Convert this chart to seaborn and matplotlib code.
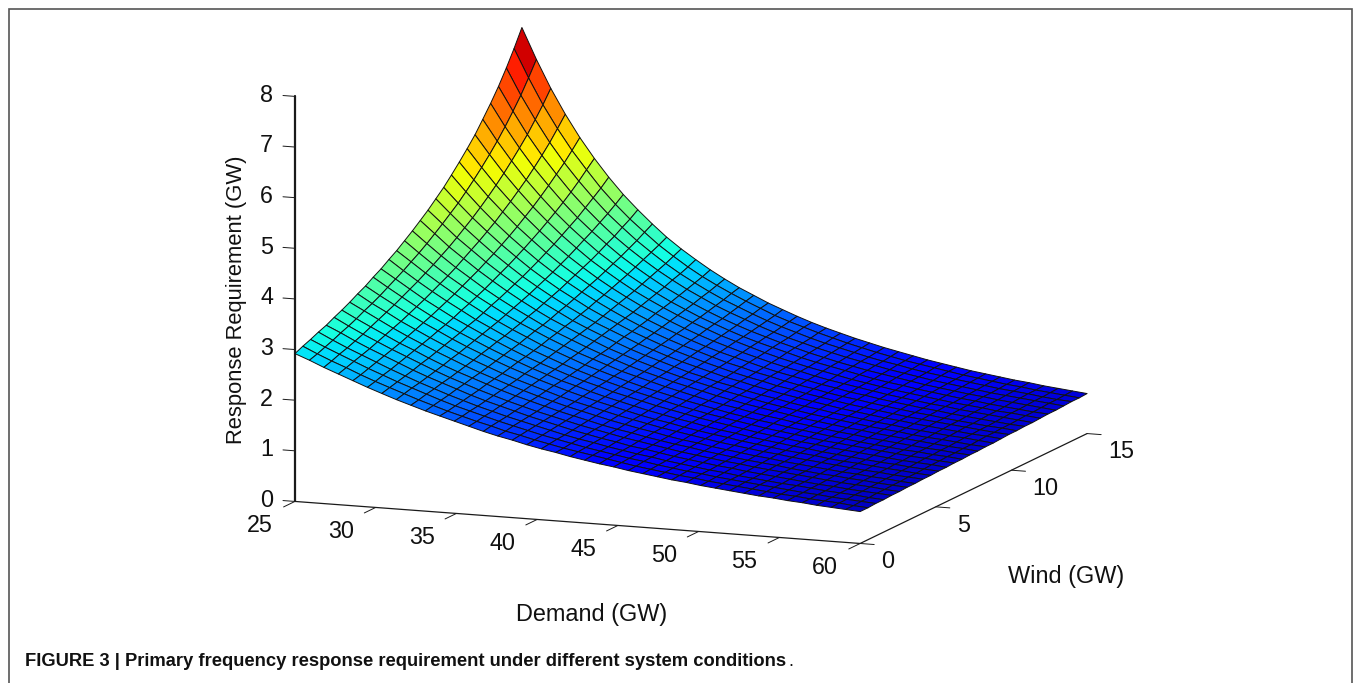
import matplotlib
matplotlib.use('Agg')
import numpy as np
import matplotlib.pyplot as plt
import seaborn as sns
from matplotlib.colors import PowerNorm
from matplotlib.patches import Rectangle
from mpl_toolkits.mplot3d import proj3d

demand = [25, 25.9, 26.79, 27.69, 28.59, 29.49, 30.38, 31.28, 32.18, 33.08,
          33.97, 34.87, 35.77, 36.67, 37.56, 38.46, 39.36, 40.26, 41.15, 42.05,
          42.95, 43.85, 44.74, 45.64, 46.54, 47.44, 48.33, 49.23, 50.13, 51.03,
          51.92, 52.82, 53.72, 54.62, 55.51, 56.41, 57.31, 58.21, 59.1, 60]
wind = [0, 0.52, 1.03, 1.55, 2.07, 2.59, 3.1, 3.62, 4.14, 4.66,
        5.17, 5.69, 6.21, 6.72, 7.24, 7.76, 8.28, 8.79, 9.31, 9.83,
        10.34, 10.86, 11.38, 11.9, 12.41, 12.93, 13.45, 13.97, 14.48, 15]
# one row per demand value, one column per wind value
requirement = [
    [2.92, 2.99, 3.05, 3.12, 3.18, 3.26, 3.33, 3.41, 3.50, 3.58, 3.68, 3.77, 3.88, 3.98, 4.10, 4.22, 4.35, 4.48, 4.63, 4.78, 4.95, 5.13, 5.32, 5.52, 5.75, 5.99, 6.25, 6.54, 6.85, 7.19],
    [2.81, 2.86, 2.92, 2.98, 3.05, 3.11, 3.18, 3.26, 3.33, 3.41, 3.50, 3.59, 3.68, 3.78, 3.88, 3.99, 4.11, 4.23, 4.36, 4.49, 4.64, 4.80, 4.97, 5.15, 5.34, 5.55, 5.78, 6.02, 6.29, 6.58],
    [2.69, 2.74, 2.80, 2.85, 2.91, 2.97, 3.04, 3.11, 3.18, 3.25, 3.33, 3.41, 3.49, 3.58, 3.67, 3.77, 3.87, 3.98, 4.10, 4.22, 4.35, 4.49, 4.64, 4.80, 4.97, 5.15, 5.34, 5.56, 5.78, 6.03],
    [2.58, 2.63, 2.68, 2.73, 2.78, 2.84, 2.90, 2.96, 3.02, 3.09, 3.16, 3.23, 3.31, 3.39, 3.47, 3.56, 3.66, 3.76, 3.86, 3.97, 4.08, 4.21, 4.34, 4.48, 4.62, 4.78, 4.95, 5.13, 5.33, 5.54],
    [2.47, 2.51, 2.56, 2.61, 2.66, 2.71, 2.76, 2.82, 2.88, 2.94, 3.00, 3.07, 3.14, 3.21, 3.29, 3.37, 3.45, 3.54, 3.63, 3.73, 3.83, 3.94, 4.06, 4.18, 4.31, 4.45, 4.60, 4.75, 4.92, 5.10],
    [2.36, 2.40, 2.45, 2.49, 2.54, 2.59, 2.64, 2.69, 2.74, 2.80, 2.85, 2.91, 2.98, 3.04, 3.11, 3.18, 3.26, 3.34, 3.42, 3.51, 3.60, 3.70, 3.80, 3.91, 4.02, 4.14, 4.27, 4.41, 4.56, 4.71],
    [2.26, 2.30, 2.34, 2.38, 2.42, 2.47, 2.51, 2.56, 2.61, 2.66, 2.71, 2.77, 2.82, 2.88, 2.95, 3.01, 3.08, 3.15, 3.22, 3.30, 3.38, 3.47, 3.56, 3.66, 3.76, 3.86, 3.98, 4.10, 4.22, 4.36],
    [2.16, 2.20, 2.24, 2.27, 2.31, 2.35, 2.39, 2.44, 2.48, 2.53, 2.58, 2.63, 2.68, 2.73, 2.79, 2.85, 2.91, 2.97, 3.04, 3.11, 3.18, 3.26, 3.34, 3.43, 3.52, 3.61, 3.71, 3.81, 3.92, 4.04],
    [2.07, 2.10, 2.14, 2.17, 2.21, 2.24, 2.28, 2.32, 2.36, 2.41, 2.45, 2.50, 2.54, 2.59, 2.64, 2.70, 2.75, 2.81, 2.87, 2.93, 3.00, 3.07, 3.14, 3.21, 3.29, 3.38, 3.46, 3.56, 3.65, 3.76],
    [1.98, 2.01, 2.04, 2.07, 2.11, 2.14, 2.18, 2.21, 2.25, 2.29, 2.33, 2.37, 2.41, 2.46, 2.51, 2.55, 2.60, 2.66, 2.71, 2.77, 2.83, 2.89, 2.95, 3.02, 3.09, 3.16, 3.24, 3.32, 3.41, 3.50],
    [1.90, 1.92, 1.95, 1.98, 2.01, 2.04, 2.08, 2.11, 2.14, 2.18, 2.22, 2.25, 2.29, 2.33, 2.38, 2.42, 2.47, 2.51, 2.56, 2.61, 2.67, 2.72, 2.78, 2.84, 2.90, 2.97, 3.04, 3.11, 3.18, 3.26],
    [1.82, 1.84, 1.87, 1.89, 1.92, 1.95, 1.98, 2.01, 2.04, 2.08, 2.11, 2.14, 2.18, 2.22, 2.26, 2.30, 2.34, 2.38, 2.42, 2.47, 2.52, 2.57, 2.62, 2.67, 2.73, 2.79, 2.85, 2.91, 2.98, 3.05],
    [1.74, 1.76, 1.79, 1.81, 1.84, 1.86, 1.89, 1.92, 1.95, 1.98, 2.01, 2.04, 2.07, 2.11, 2.14, 2.18, 2.22, 2.26, 2.30, 2.34, 2.38, 2.42, 2.47, 2.52, 2.57, 2.62, 2.68, 2.73, 2.79, 2.86],
    [1.66, 1.69, 1.71, 1.73, 1.76, 1.78, 1.81, 1.83, 1.86, 1.89, 1.91, 1.94, 1.97, 2.00, 2.04, 2.07, 2.10, 2.14, 2.18, 2.21, 2.25, 2.29, 2.34, 2.38, 2.42, 2.47, 2.52, 2.57, 2.62, 2.68],
    [1.59, 1.61, 1.64, 1.66, 1.68, 1.70, 1.73, 1.75, 1.77, 1.80, 1.83, 1.85, 1.88, 1.91, 1.94, 1.97, 2.00, 2.03, 2.06, 2.10, 2.13, 2.17, 2.21, 2.25, 2.29, 2.33, 2.38, 2.42, 2.47, 2.52],
    [1.53, 1.55, 1.57, 1.59, 1.61, 1.63, 1.65, 1.67, 1.69, 1.72, 1.74, 1.77, 1.79, 1.82, 1.84, 1.87, 1.90, 1.93, 1.96, 1.99, 2.02, 2.06, 2.09, 2.13, 2.16, 2.20, 2.24, 2.28, 2.33, 2.37],
    [1.46, 1.48, 1.50, 1.52, 1.54, 1.56, 1.58, 1.60, 1.62, 1.64, 1.66, 1.68, 1.71, 1.73, 1.76, 1.78, 1.81, 1.84, 1.86, 1.89, 1.92, 1.95, 1.98, 2.02, 2.05, 2.08, 2.12, 2.16, 2.20, 2.24],
    [1.40, 1.42, 1.44, 1.45, 1.47, 1.49, 1.51, 1.53, 1.55, 1.57, 1.59, 1.61, 1.63, 1.65, 1.68, 1.70, 1.72, 1.75, 1.77, 1.80, 1.83, 1.85, 1.88, 1.91, 1.94, 1.97, 2.01, 2.04, 2.08, 2.11],
    [1.35, 1.36, 1.38, 1.39, 1.41, 1.43, 1.44, 1.46, 1.48, 1.50, 1.52, 1.54, 1.56, 1.58, 1.60, 1.62, 1.64, 1.66, 1.69, 1.71, 1.74, 1.76, 1.79, 1.82, 1.84, 1.87, 1.90, 1.93, 1.96, 2.00],
    [1.29, 1.31, 1.32, 1.34, 1.35, 1.37, 1.38, 1.40, 1.42, 1.43, 1.45, 1.47, 1.49, 1.51, 1.53, 1.55, 1.57, 1.59, 1.61, 1.63, 1.65, 1.68, 1.70, 1.73, 1.75, 1.78, 1.80, 1.83, 1.86, 1.89],
    [1.24, 1.26, 1.27, 1.28, 1.30, 1.31, 1.33, 1.34, 1.36, 1.37, 1.39, 1.41, 1.42, 1.44, 1.46, 1.48, 1.50, 1.51, 1.53, 1.55, 1.58, 1.60, 1.62, 1.64, 1.67, 1.69, 1.71, 1.74, 1.77, 1.79],
    [1.19, 1.21, 1.22, 1.23, 1.24, 1.26, 1.27, 1.29, 1.30, 1.32, 1.33, 1.35, 1.36, 1.38, 1.39, 1.41, 1.43, 1.45, 1.47, 1.48, 1.50, 1.52, 1.54, 1.56, 1.59, 1.61, 1.63, 1.65, 1.68, 1.70],
    [1.15, 1.16, 1.17, 1.18, 1.20, 1.21, 1.22, 1.23, 1.25, 1.26, 1.28, 1.29, 1.30, 1.32, 1.33, 1.35, 1.37, 1.38, 1.40, 1.42, 1.44, 1.45, 1.47, 1.49, 1.51, 1.53, 1.55, 1.57, 1.60, 1.62],
    [1.10, 1.11, 1.13, 1.14, 1.15, 1.16, 1.17, 1.18, 1.20, 1.21, 1.22, 1.24, 1.25, 1.26, 1.28, 1.29, 1.31, 1.32, 1.34, 1.35, 1.37, 1.39, 1.41, 1.42, 1.44, 1.46, 1.48, 1.50, 1.52, 1.54],
    [1.06, 1.07, 1.08, 1.09, 1.10, 1.11, 1.13, 1.14, 1.15, 1.16, 1.17, 1.19, 1.20, 1.21, 1.22, 1.24, 1.25, 1.27, 1.28, 1.30, 1.31, 1.33, 1.34, 1.36, 1.38, 1.39, 1.41, 1.43, 1.45, 1.47],
    [1.02, 1.03, 1.04, 1.05, 1.06, 1.07, 1.08, 1.09, 1.10, 1.12, 1.13, 1.14, 1.15, 1.16, 1.17, 1.19, 1.20, 1.21, 1.23, 1.24, 1.26, 1.27, 1.28, 1.30, 1.32, 1.33, 1.35, 1.36, 1.38, 1.40],
    [0.98, 0.99, 1.00, 1.01, 1.02, 1.03, 1.04, 1.05, 1.06, 1.07, 1.08, 1.09, 1.10, 1.12, 1.13, 1.14, 1.15, 1.16, 1.18, 1.19, 1.20, 1.22, 1.23, 1.24, 1.26, 1.27, 1.29, 1.30, 1.32, 1.34],
    [0.95, 0.96, 0.97, 0.97, 0.98, 0.99, 1.00, 1.01, 1.02, 1.03, 1.04, 1.05, 1.06, 1.07, 1.08, 1.09, 1.10, 1.12, 1.13, 1.14, 1.15, 1.16, 1.18, 1.19, 1.20, 1.22, 1.23, 1.25, 1.26, 1.28],
    [0.91, 0.92, 0.93, 0.94, 0.95, 0.96, 0.96, 0.97, 0.98, 0.99, 1.00, 1.01, 1.02, 1.03, 1.04, 1.05, 1.06, 1.07, 1.08, 1.09, 1.11, 1.12, 1.13, 1.14, 1.15, 1.17, 1.18, 1.19, 1.21, 1.22],
    [0.88, 0.89, 0.90, 0.90, 0.91, 0.92, 0.93, 0.94, 0.95, 0.95, 0.96, 0.97, 0.98, 0.99, 1.00, 1.01, 1.02, 1.03, 1.04, 1.05, 1.06, 1.07, 1.08, 1.09, 1.11, 1.12, 1.13, 1.14, 1.16, 1.17],
    [0.85, 0.86, 0.87, 0.87, 0.88, 0.89, 0.90, 0.90, 0.91, 0.92, 0.93, 0.94, 0.94, 0.95, 0.96, 0.97, 0.98, 0.99, 1.00, 1.01, 1.02, 1.03, 1.04, 1.05, 1.06, 1.07, 1.08, 1.10, 1.11, 1.12],
    [0.82, 0.83, 0.84, 0.84, 0.85, 0.86, 0.86, 0.87, 0.88, 0.89, 0.89, 0.90, 0.91, 0.92, 0.93, 0.94, 0.94, 0.95, 0.96, 0.97, 0.98, 0.99, 1.00, 1.01, 1.02, 1.03, 1.04, 1.05, 1.06, 1.07],
    [0.79, 0.80, 0.81, 0.81, 0.82, 0.83, 0.83, 0.84, 0.85, 0.85, 0.86, 0.87, 0.88, 0.88, 0.89, 0.90, 0.91, 0.92, 0.93, 0.93, 0.94, 0.95, 0.96, 0.97, 0.98, 0.99, 1.00, 1.01, 1.02, 1.03],
    [0.77, 0.77, 0.78, 0.79, 0.79, 0.80, 0.80, 0.81, 0.82, 0.82, 0.83, 0.84, 0.85, 0.85, 0.86, 0.87, 0.88, 0.88, 0.89, 0.90, 0.91, 0.92, 0.93, 0.93, 0.94, 0.95, 0.96, 0.97, 0.98, 0.99],
    [0.74, 0.75, 0.75, 0.76, 0.76, 0.77, 0.78, 0.78, 0.79, 0.80, 0.80, 0.81, 0.82, 0.82, 0.83, 0.84, 0.84, 0.85, 0.86, 0.87, 0.87, 0.88, 0.89, 0.90, 0.91, 0.92, 0.92, 0.93, 0.94, 0.95],
    [0.72, 0.72, 0.73, 0.73, 0.74, 0.74, 0.75, 0.76, 0.76, 0.77, 0.77, 0.78, 0.79, 0.79, 0.80, 0.81, 0.81, 0.82, 0.83, 0.84, 0.84, 0.85, 0.86, 0.87, 0.87, 0.88, 0.89, 0.90, 0.91, 0.92],
    [0.69, 0.70, 0.70, 0.71, 0.71, 0.72, 0.73, 0.73, 0.74, 0.74, 0.75, 0.75, 0.76, 0.77, 0.77, 0.78, 0.79, 0.79, 0.80, 0.81, 0.81, 0.82, 0.83, 0.83, 0.84, 0.85, 0.86, 0.87, 0.87, 0.88],
    [0.67, 0.68, 0.68, 0.69, 0.69, 0.70, 0.70, 0.71, 0.71, 0.72, 0.72, 0.73, 0.74, 0.74, 0.75, 0.75, 0.76, 0.77, 0.77, 0.78, 0.78, 0.79, 0.80, 0.81, 0.81, 0.82, 0.83, 0.83, 0.84, 0.85],
    [0.65, 0.65, 0.66, 0.66, 0.67, 0.67, 0.68, 0.68, 0.69, 0.69, 0.70, 0.71, 0.71, 0.72, 0.72, 0.73, 0.73, 0.74, 0.75, 0.75, 0.76, 0.76, 0.77, 0.78, 0.78, 0.79, 0.80, 0.80, 0.81, 0.82],
    [0.63, 0.63, 0.64, 0.64, 0.65, 0.65, 0.66, 0.66, 0.67, 0.67, 0.68, 0.68, 0.69, 0.69, 0.70, 0.70, 0.71, 0.71, 0.72, 0.73, 0.73, 0.74, 0.74, 0.75, 0.76, 0.76, 0.77, 0.78, 0.78, 0.79],
]
demand_ticks = [25, 30, 35, 40, 45, 50, 55, 60]
wind_ticks = [0, 5, 10, 15]
z_ticks = [0, 1, 2, 3, 4, 5, 6, 7, 8]

sns.set_theme(style='white')
plt.rcParams['font.family'] = ['Liberation Sans', 'DejaVu Sans']

W = 1356
H = 683
TEXT = '#111111'
fig = plt.figure(figsize=(W / 100, H / 100), dpi=100)
fig.patch.set_facecolor('white')
S = 934
ax = fig.add_axes([211.4 / W, -61.6 / H, S / W, S / H], projection='3d', computed_zorder=False)
ax.set_proj_type('ortho')
ax.view_init(elev=10.94, azim=-68.6)
ax.set_box_aspect((607, 622, 412.5))
ax.set_xlim(25, 60, view_margin=0)
ax.set_ylim(0, 15, view_margin=0)
ax.set_zlim(0, 8, view_margin=0)
ax.set_axis_off()

X, Y = np.meshgrid(demand, wind, indexing='ij')
Z = np.array(requirement)
# colour scale starts at zero, slight power curve keeps the low part bluer
ax.plot_surface(X, Y, Z, rstride=1, cstride=1, cmap='jet', norm=PowerNorm(1.15, vmin=0, vmax=7.19),
                edgecolor='#111111', linewidth=0.7, shade=False, antialiased=True, zorder=3)


def tick_label(x, y, z, s, **kw):
    # 3d point to 2d axes coordinates
    px, py, _ = proj3d.proj_transform(x, y, z, ax.get_proj())
    ax.text2D(px, py, s, transform=ax.transData, va='center', fontsize=16.8, color=TEXT, **kw)


# matlab style axis lines
ax.plot([25, 25], [0, 0], [0, 8], color='k', lw=1.6, zorder=2)
ax.plot([25, 60], [0, 0], [0, 0], color='k', lw=0.9, zorder=2)
ax.plot([60, 60], [0, 15], [0, 0], color='k', lw=0.9, zorder=2)
for t in z_ticks:
    ax.plot([24.26, 25], [0, 0], [t, t], color='k', lw=0.7, zorder=2)
    tick_label(23.64, 0, t - 0.01, str(t), ha='right')
for t in demand_ticks:
    ax.plot([t, t], [-0.75, 0], [0, 0], color='k', lw=0.7, zorder=2)
    tick_label(t, -2.3, -0.15, str(t), ha='center')
for t in wind_ticks:
    ax.plot([60, 60.87], [t, t], [0, 0], color='k', lw=0.7, zorder=2)
    tick_label(61.3, t, -0.33, str(t), ha='left')

fig.text(592 / W, 1 - 614 / H, 'Demand (GW)', ha='center', va='center', fontsize=16.9, color=TEXT)
fig.text(1066 / W, 1 - 577 / H, 'Wind (GW)', ha='center', va='center', fontsize=16.9, color=TEXT)
fig.text(236 / W, 1 - 300 / H, 'Response Requirement (GW)', rotation=90, ha='center', va='center',
         fontsize=15.8, color=TEXT)
fig.text(25 / W, 1 - 662 / H, 'FIGURE 3 | Primary frequency response requirement under different system conditions',
         ha='left', va='center', fontsize=13.2, fontweight='bold', color=TEXT)
fig.text(788 / W, 1 - 662 / H, '.', ha='left', va='center', fontsize=13.2, color=TEXT)
fig.add_artist(Rectangle((8.5 / W, -0.02), 1343.5 / W, 1 - 9 / H + 0.02, transform=fig.transFigure,
                         fill=False, edgecolor='#555555', lw=1.2))

fig.savefig('out.png', dpi=100)
